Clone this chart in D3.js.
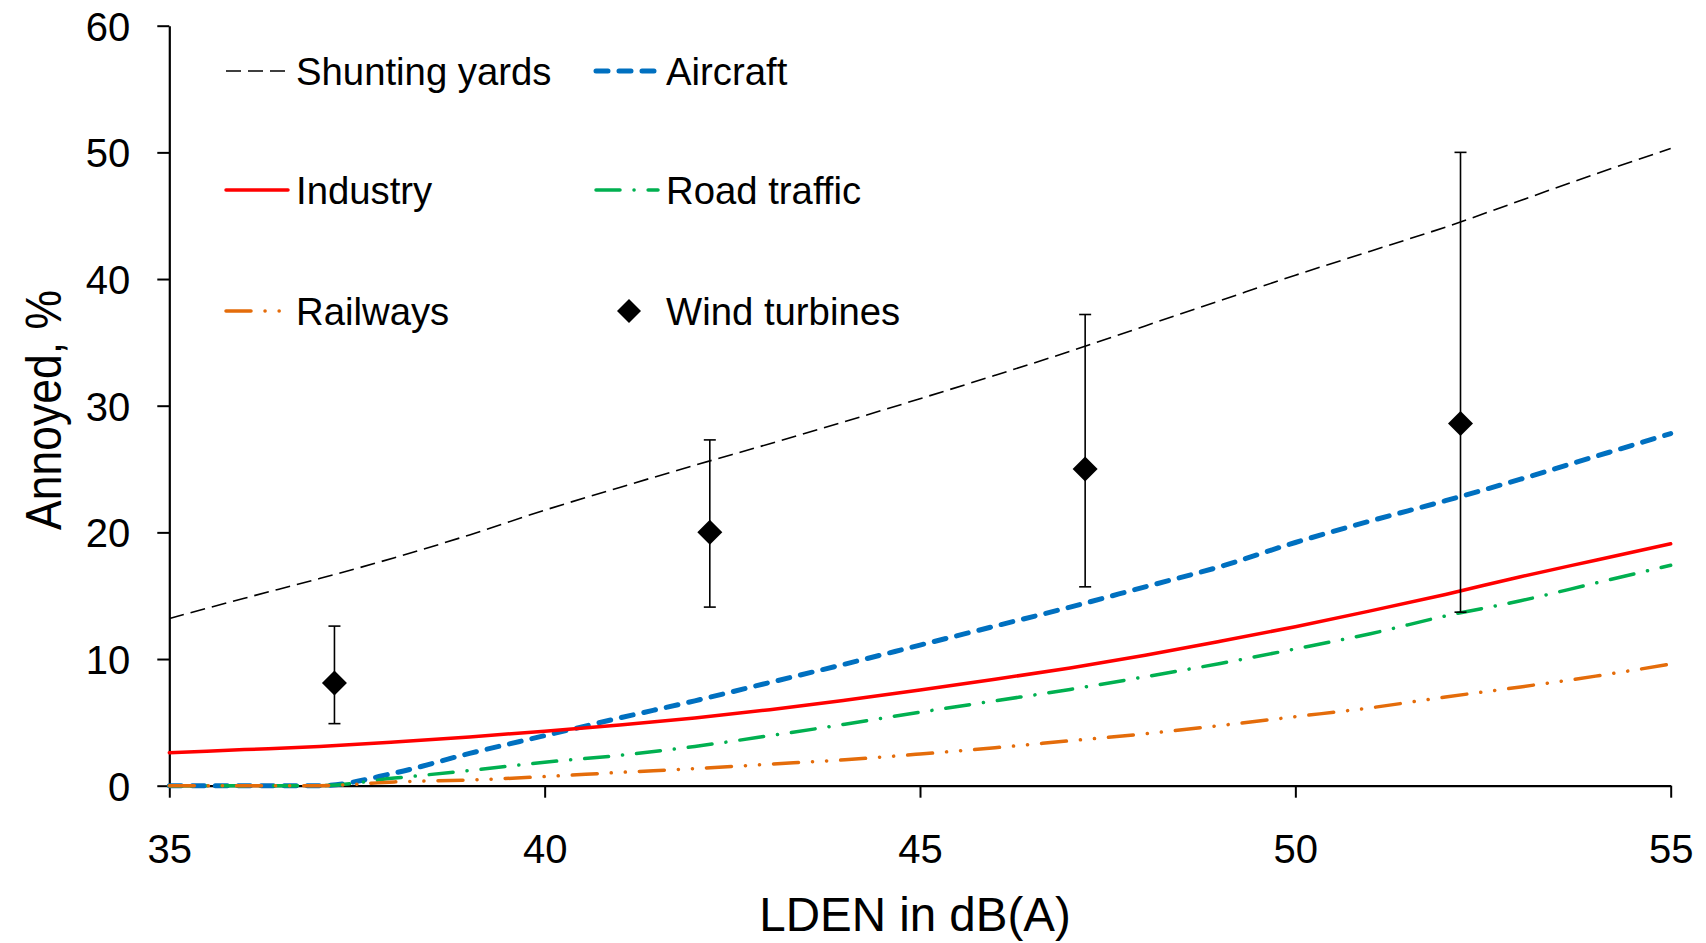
<!DOCTYPE html>
<html>
<head>
<meta charset="utf-8">
<script src="https://cdn.jsdelivr.net/npm/d3@7/dist/d3.min.js"></script>
<style>
  html, body { margin: 0; padding: 0; background: #fff; }
  svg { display: block; font-family: "Liberation Sans", Arial, sans-serif; }
</style>
</head>
<body>
<svg id="chart" width="1706" height="943"></svg>
<script>
// Noise level (LDEN, dB(A)) at which each exposure-response curve is sampled
const ldenLevels = [35, 36, 37, 38, 39, 40, 41, 42, 43, 44, 45, 46, 47, 48, 49, 50, 51, 52, 53, 54, 55];

// Percentage annoyed for each noise source
const shuntingYards = [13.2, 14.8, 16.35, 18.0, 19.8, 21.75, 23.55, 25.3, 27.0, 28.75, 30.55, 32.4, 34.3, 36.3, 38.3, 40.3, 42.2, 44.1, 46.2, 48.3, 50.3];
const aircraft      = [0, 0, 0, 1.0, 2.55, 3.95, 5.35, 6.7, 8.15, 9.6, 11.1, 12.6, 14.1, 15.7, 17.3, 19.2, 20.9, 22.5, 24.2, 26.0, 27.8];
const industry      = [2.6, 2.85, 3.1, 3.45, 3.85, 4.3, 4.8, 5.35, 6.0, 6.75, 7.55, 8.4, 9.3, 10.3, 11.4, 12.55, 13.8, 15.1, 16.5, 17.8, 19.1];
const roadTraffic   = [0, 0, 0, 0.6, 1.2, 1.85, 2.4, 3.1, 3.95, 4.85, 5.8, 6.7, 7.6, 8.6, 9.65, 10.8, 12.0, 13.4, 14.6, 16.0, 17.4];
const railways      = [0, 0, 0, 0.3, 0.45, 0.72, 1.05, 1.35, 1.7, 2.05, 2.5, 3.0, 3.55, 4.1, 4.75, 5.45, 6.15, 7.0, 7.8, 8.65, 9.6];

// Wind turbine survey results: class mean level, % annoyed and interval bounds
const windLden  = [37.2, 42.2, 47.2, 52.2];
const windPct   = [8.1, 20.0, 25.0, 28.6];
const windLow   = [4.9, 14.1, 15.7, 13.7];
const windHigh  = [12.6, 27.3, 37.2, 50.0];

// Axis ticks and labels
const xTicks = [35, 40, 45, 50, 55];
const yTicks = [0, 10, 20, 30, 40, 50, 60];
const xTitle = "LDEN in dB(A)";
const yTitle = "Annoyed, %";
const seriesNames = ["Shunting yards", "Aircraft", "Industry", "Road traffic", "Railways", "Wind turbines"];

// ---- drawing ----
const svg = d3.select("#chart");
const plot = { left: 169.3, right: 1670.7, top: 25.7, bottom: 785.7 };

const x = d3.scaleLinear().domain([35, 55]).range([plot.left, plot.right]);
const y = d3.scaleLinear().domain([0, 60]).range([plot.bottom, plot.top]);

const styles = {
  "Shunting yards": { color: "#000000", width: 1.6, dash: "15,7", cap: "butt" },
  "Aircraft":       { color: "#0070C0", width: 5,   dash: "12,11", cap: "round" },
  "Industry":       { color: "#FF0000", width: 3.5, dash: null, cap: "round" },
  "Road traffic":   { color: "#00B050", width: 3.5, dash: "24,14,0.1,14", cap: "round" },
  "Railways":       { color: "#E46C0A", width: 3.5, dash: "25,14,0.1,14,0.1,14", cap: "round" }
};

const lineSeries = [
  { name: seriesNames[0], values: shuntingYards },
  { name: seriesNames[1], values: aircraft },
  { name: seriesNames[2], values: industry },
  { name: seriesNames[3], values: roadTraffic },
  { name: seriesNames[4], values: railways }
];

// Axes
const axisFont = "40px";
const yAxis = d3.axisLeft(y).tickValues(yTicks).tickSize(12).tickSizeOuter(0).tickPadding(27);
const xAxis = d3.axisBottom(x).tickValues(xTicks).tickSize(12).tickSizeOuter(0).tickPadding(37);

const gy = svg.append("g").attr("transform", `translate(${plot.left},0)`).call(yAxis);
const gx = svg.append("g").attr("transform", `translate(0,${plot.bottom})`).call(xAxis);

[gx, gy].forEach(g => {
  g.selectAll("path.domain").attr("stroke", "#000").attr("stroke-width", 2.2);
  g.selectAll(".tick line").attr("stroke", "#000").attr("stroke-width", 2);
  g.selectAll(".tick text")
    .attr("fill", "#000")
    .style("font-size", axisFont)
    .style("font-family", '"Liberation Sans", Arial, sans-serif');
});
gy.selectAll(".tick text").attr("dy", "0.36em");

// Axis titles
svg.append("text")
  .attr("x", 915)
  .attr("y", 931)
  .attr("text-anchor", "middle")
  .style("font-size", "47.5px")
  .text(xTitle);

svg.append("text")
  .attr("transform", "translate(61,410) rotate(-90)")
  .attr("text-anchor", "middle")
  .attr("textLength", 240)
  .attr("lengthAdjust", "spacingAndGlyphs")
  .style("font-size", "50px")
  .text(yTitle);

// Exposure-response curves
const line = d3.line()
  .x((d, i) => x(ldenLevels[i]))
  .y(d => y(d))
  .curve(d3.curveMonotoneX);

const curves = svg.append("g").attr("fill", "none");
lineSeries.forEach(s => {
  const st = styles[s.name];
  curves.append("path")
    .datum(s.values)
    .attr("d", line)
    .attr("stroke", st.color)
    .attr("stroke-width", st.width)
    .attr("stroke-linecap", st.cap)
    .attr("stroke-dasharray", st.dash);
});

// Wind turbines with error bars
const wind = windLden.map((l, i) => ({ l, p: windPct[i], lo: windLow[i], hi: windHigh[i] }));
const wg = svg.append("g");
const capHalf = 6;
wind.forEach(d => {
  const cx = x(d.l);
  wg.append("line").attr("x1", cx).attr("x2", cx).attr("y1", y(d.lo)).attr("y2", y(d.hi))
    .attr("stroke", "#000").attr("stroke-width", 1.6);
  [d.lo, d.hi].forEach(v => {
    wg.append("line").attr("x1", cx - capHalf).attr("x2", cx + capHalf).attr("y1", y(v)).attr("y2", y(v))
      .attr("stroke", "#000").attr("stroke-width", 1.6);
  });
});

const diamond = (r) => `M0,${-r}L${r},0L0,${r}L${-r},0Z`;
wg.selectAll("path.pt")
  .data(wind)
  .join("path")
  .attr("class", "pt")
  .attr("transform", d => `translate(${x(d.l)},${y(d.p)})`)
  .attr("d", diamond(12.5))
  .attr("fill", "#000");

// Legend
const legendCols = [226, 596];
const legendRows = [71, 190, 311];
const sampleLen = 62;
const textGap = 8;
const legend = svg.append("g").style("font-size", "38.3px");

seriesNames.forEach((name, i) => {
  const col = i % 2, row = Math.floor(i / 2);
  const lx = legendCols[col], ly = legendRows[row];
  const g = legend.append("g");
  if (styles[name]) {
    const st = styles[name];
    g.append("line")
      .attr("x1", lx).attr("x2", lx + sampleLen)
      .attr("y1", ly).attr("y2", ly)
      .attr("stroke", st.color)
      .attr("stroke-width", st.width)
      .attr("stroke-linecap", st.cap)
      .attr("stroke-dasharray", st.dash);
  } else {
    g.append("path")
      .attr("transform", `translate(${lx + sampleLen / 2 + 2},${ly})`)
      .attr("d", diamond(12))
      .attr("fill", "#000");
  }
  g.append("text")
    .attr("x", lx + sampleLen + textGap)
    .attr("y", ly)
    .attr("dy", "0.36em")
    .attr("fill", "#000")
    .text(name);
});
</script>
</body>
</html>
